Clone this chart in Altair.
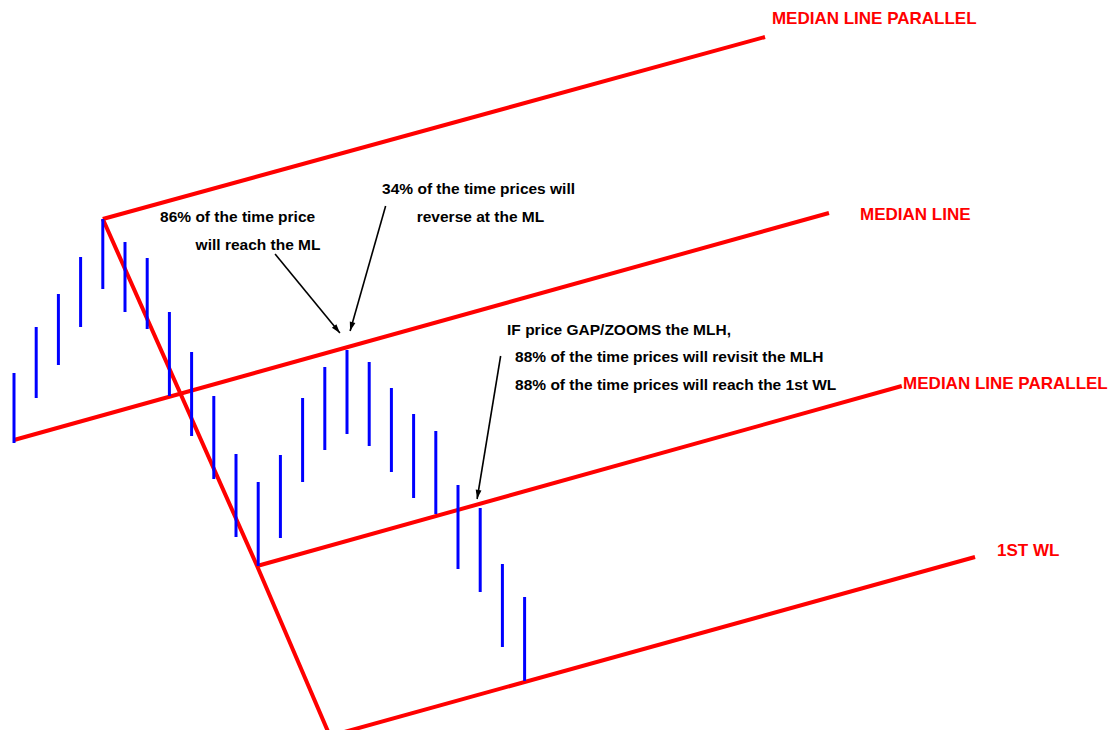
import math
import altair as alt
import pandas as pd

# ---- price bars (time index, high, low) ----
bar_t = list(range(24))
bar_high = [357, 403, 436, 473, 511, 488, 472, 418, 378, 334, 276, 248,
            275, 332, 363, 380, 368, 342, 316, 299, 245, 222, 166, 133]
bar_low = [287, 332, 365, 403, 441, 418, 401, 334, 294, 251, 193, 164,
           192, 248, 280, 296, 284, 258, 232, 216, 161, 138, 83, 49]

# ---- pitchfork lines (name, t, price) ----
line_name = ["upper", "upper", "median", "median", "lower", "lower",
             "wl", "wl", "handle", "handle", "handle"]
line_t = [4.0, 33.83, 0.0, 36.71, 10.95, 39.99, 14.23, 43.29, 4.0, 10.95, 14.23]
line_p = [511, 693, 290, 517, 164, 344, -6, 173, 511, 164, -6]

# ---- annotation arrows (start -> tip) ----
arrow_id = [1, 2, 3]
arrow_t0 = [11.76, 16.74, 21.92]
arrow_p0 = [476, 524, 374]
arrow_t1 = [14.68, 15.14, 20.86]
arrow_p1 = [397, 399, 231]

# ---- black notes ----
note_text = ["86% of the time price", "will reach the ML",
             "34% of the time prices will", "reverse at the ML",
             "IF price GAP/ZOOMS the MLH,",
             "88% of the time prices will revisit the MLH",
             "88% of the time prices will reach the 1st WL"]
note_t = [6.58, 8.18, 16.58, 18.14, 22.21, 22.57, 22.57]
note_p = [513, 485, 541, 513, 400, 373, 345]

# ---- red labels ----
label_text = ["MEDIAN LINE PARALLEL", "MEDIAN LINE", "MEDIAN LINE PARALLEL", "1ST WL"]
label_t = [34.14, 38.11, 40.05, 44.28]
label_p = [711, 515, 346, 179]

W, H = 1101, 722
XD = [-0.2703, 49.324]
YD = [0, 722]
px_per_t = W / (XD[1] - XD[0])
px_per_p = H / (YD[1] - YD[0])

xs = alt.Scale(domain=XD, nice=False, zero=False)
ys = alt.Scale(domain=YD, nice=False, zero=False)

FONT = "Liberation Sans, Arial, sans-serif"

bars = pd.DataFrame({"t": bar_t, "high": bar_high, "low": bar_low})
lines = pd.DataFrame({"name": line_name, "t": line_t, "p": line_p,
                      "ord": list(range(len(line_t)))})

arrow_rows = []
head_rows = []
for i, a in enumerate(arrow_id):
    arrow_rows.append({"id": a, "t": arrow_t0[i], "p": arrow_p0[i], "ord": 0})
    arrow_rows.append({"id": a, "t": arrow_t1[i], "p": arrow_p1[i], "ord": 1})
    dx = (arrow_t1[i] - arrow_t0[i]) * px_per_t
    dy = -(arrow_p1[i] - arrow_p0[i]) * px_per_p
    ang = math.degrees(math.atan2(dx, -dy)) % 360
    head_rows.append({"id": a, "t": arrow_t1[i], "p": arrow_p1[i], "ang": ang})
arrows = pd.DataFrame(arrow_rows)
heads = pd.DataFrame(head_rows)

notes = pd.DataFrame({"text": note_text, "t": note_t, "p": note_p})
labels = pd.DataFrame({"text": label_text, "t": label_t, "p": label_p})

bar_layer = alt.Chart(bars).mark_rule(color="#0000FF", strokeWidth=3).encode(
    x=alt.X("t:Q", scale=xs, axis=None),
    y=alt.Y("high:Q", scale=ys, axis=None),
    y2="low:Q",
)

line_layer = alt.Chart(lines).mark_line(color="#FF0000", strokeWidth=4, strokeJoin="miter").encode(
    x=alt.X("t:Q", scale=xs, axis=None),
    y=alt.Y("p:Q", scale=ys, axis=None),
    detail="name:N",
    order="ord:Q",
)

arrow_layer = alt.Chart(arrows).mark_line(color="black", strokeWidth=1.6).encode(
    x=alt.X("t:Q", scale=xs, axis=None),
    y=alt.Y("p:Q", scale=ys, axis=None),
    detail="id:N",
    order="ord:Q",
)

head_layer = alt.Chart(heads).mark_point(
    shape="M0,0 L-0.32,1 L0.32,1 Z", filled=True, color="black", opacity=1, size=330
).encode(
    x=alt.X("t:Q", scale=xs, axis=None),
    y=alt.Y("p:Q", scale=ys, axis=None),
    angle=alt.Angle("ang:Q", scale=None),
)

note_layer = alt.Chart(notes).mark_text(
    align="left", baseline="middle", font=FONT, fontWeight="bold", fontSize=15.5, color="black"
).encode(
    x=alt.X("t:Q", scale=xs, axis=None),
    y=alt.Y("p:Q", scale=ys, axis=None),
    text="text:N",
)

label_layer = alt.Chart(labels).mark_text(
    align="left", baseline="middle", font=FONT, fontWeight="bold", fontSize=17, color="#FF0000"
).encode(
    x=alt.X("t:Q", scale=xs, axis=None),
    y=alt.Y("p:Q", scale=ys, axis=None),
    text="text:N",
)

chart = alt.layer(
    line_layer, bar_layer, arrow_layer, head_layer, note_layer, label_layer
).properties(
    width=W, height=H, padding=0,
    autosize=alt.AutoSizeParams(type="none"),
    background="white",
).configure_view(stroke=None)

chart.save("out.html", embed_options={"renderer": "svg", "actions": False})
